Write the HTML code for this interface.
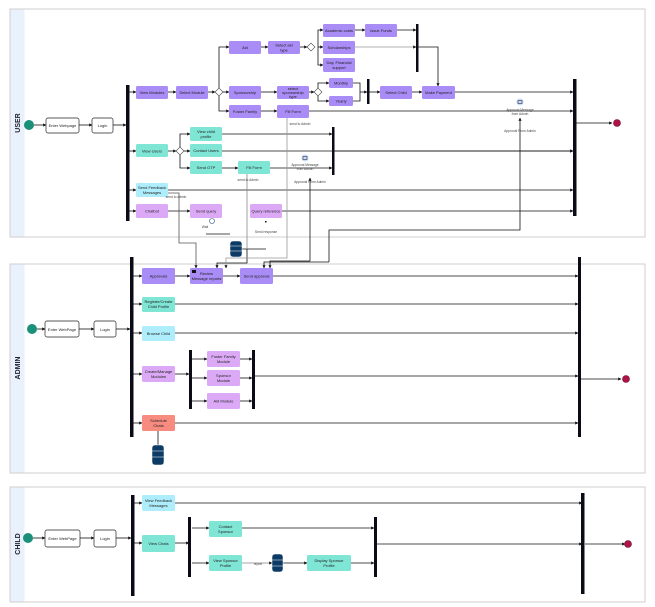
<!DOCTYPE html>
<html><head><meta charset="utf-8"><style>
html,body{margin:0;padding:0;background:#fff;width:655px;height:607px;overflow:hidden}
svg{display:block;font-family:"Liberation Sans",sans-serif}
.b text{font-size:4px;text-anchor:middle;fill:#222}
</style></head><body>
<svg width="655" height="607" viewBox="0 0 655 607" xmlns="http://www.w3.org/2000/svg">
<defs><marker id="a" markerWidth="4" markerHeight="4" refX="3.5" refY="2" orient="auto"><path d="M0,0L4,2L0,4z" fill="#111"/></marker></defs>
<!-- lanes -->
<g fill="#fff" stroke="#cfcfcf" stroke-width="1">
<rect x="10" y="9" width="635" height="228"/><rect x="10" y="264" width="635" height="209"/><rect x="10" y="487" width="635" height="115"/></g>
<g fill="#e9f1fd"><rect x="10.5" y="9.5" width="14" height="227"/><rect x="10.5" y="264.5" width="14" height="208"/><rect x="10.5" y="487.5" width="14" height="114"/></g>
<g font-size="7" font-weight="bold" fill="#223" text-anchor="middle">
<text transform="translate(20,123) rotate(-90)">USER</text>
<text transform="translate(20,368) rotate(-90)">ADMIN</text>
<text transform="translate(20,544) rotate(-90)">CHILD</text></g>

<!-- lines -->
<g stroke="#111" stroke-width="0.8" fill="none" marker-end="url(#a)">
<path d="M34 125H46"/><path d="M79 125H92"/><path d="M113 125H126"/>
<path d="M129 92H136"/><path d="M129 151H136"/><path d="M129 190H136"/><path d="M129 211H136"/>
<path d="M168 92H176"/><path d="M208 92H215"/><path d="M223 92H229"/><path d="M219 88V47H229"/><path d="M219 96V111H229"/>
<path d="M261 47H268"/><path d="M300 47H307"/><path d="M318 47H323"/><path d="M318 47V30H323"/><path d="M318 47V65H323"/>
<path d="M355 30H365"/><path d="M397 30H416"/><path d="M355 47H416" stroke="#999"/>
<path d="M418 47H438V86"/>
<path d="M261 92H277"/><path d="M309 92H314"/><path d="M318 88V83H329"/><path d="M318 96V101H329"/>
<path d="M353 83H360V101H353" marker-end="none"/><path d="M360 92H367"/>
<path d="M369 92H380"/><path d="M412 92H422"/><path d="M455 92H573"/>
<path d="M261 111H277"/><path d="M309 111H573"/>
<path d="M168 151H176"/><path d="M184 151H190"/><path d="M180 147V134H190"/><path d="M180 155V168H190"/>
<path d="M222 134H332"/><path d="M222 151H573"/><path d="M222 168H238"/><path d="M270 168H332"/>
<path d="M334 151H573"/>
<path d="M168 190H573"/><path d="M168 211H190"/><path d="M282 211H573"/>
<path d="M576 123H612"/>
<!-- cross -->
<path d="M168 193H179V243H196V268" stroke="#555"/>
<path d="M206 234H230" marker-end="none"/>
<path d="M242 249H266" marker-end="none"/>
<path d="M247 249V263H217V268"/>
<path d="M247 174V249" stroke="#888" marker-end="none"/>
<path d="M287 118V258H226V268" stroke="#999"/>
<path d="M310 261V178"/>
<path d="M310 261H270V268"/>
<path d="M329 262H264V268"/>
<path d="M329 262V230H520V118"/>
<!-- admin -->
<path d="M37 329H45"/><path d="M79 329H94"/><path d="M116 329H130"/>
<path d="M133 276H142"/><path d="M133 304H142"/><path d="M133 333H142"/><path d="M133 374H142"/><path d="M133 423H142"/>
<path d="M175 276H190"/><path d="M223 276H240"/><path d="M273 276H578"/>
<path d="M175 304H578"/><path d="M175 333H578"/><path d="M175 374H189"/>
<path d="M192 359H207"/><path d="M192 378H207"/><path d="M192 401H207"/>
<path d="M240 359H252"/><path d="M240 378H252"/><path d="M240 401H252"/>
<path d="M255 376H578"/><path d="M175 423H578"/><path d="M158 431V445" marker-end="none"/>
<path d="M580 379H621"/>
<!-- child -->
<path d="M33 538H45"/><path d="M80 538H94"/><path d="M116 538H131"/>
<path d="M134 503H142"/><path d="M134 543H142"/><path d="M175 503H582"/><path d="M175 543H189"/>
<path d="M192 528H209"/><path d="M192 563H209"/><path d="M242 528H374"/>
<path d="M242 563H272" stroke="#888"/><path d="M282 563H307"/><path d="M351 563H374"/>
<path d="M377 544H582"/><path d="M585 544H625"/>
</g>

<!-- bars -->
<g fill="#0b0b18">
<rect x="126" y="85" width="3.5" height="136"/><rect x="416" y="24" width="2.5" height="48"/><rect x="367" y="79" width="2.5" height="25"/>
<rect x="332" y="127" width="2.5" height="48"/><rect x="573" y="79" width="3.5" height="137"/>
<rect x="130" y="257" width="3.5" height="180"/><rect x="189" y="350" width="3" height="59"/><rect x="252" y="350" width="3" height="59"/><rect x="578" y="257" width="3" height="180"/>
<rect x="131" y="495" width="3.5" height="101"/><rect x="188" y="517" width="3" height="60"/><rect x="374" y="517" width="3" height="60"/><rect x="581" y="493" width="3.5" height="101"/>
</g>

<!-- diamonds -->
<g fill="#fff" stroke="#444" stroke-width="0.6">
<path d="M215 92L219 88L223 92L219 96Z"/><path d="M307 47L311 43L315 47L311 51Z"/><path d="M314 92L318 88L322 92L318 96Z"/><path d="M176 151L180 147L184 151L180 155Z"/>
</g>

<!-- start/end -->
<g fill="#1a8f7a"><circle cx="29" cy="125" r="5"/><circle cx="32" cy="329" r="5"/><circle cx="28" cy="538" r="5"/></g>
<g fill="#b0124a" stroke="#6a0a2a" stroke-width="0.6"><circle cx="617" cy="123" r="3.5"/><circle cx="626" cy="379" r="3.5"/><circle cx="628" cy="544" r="3.5"/></g>

<!-- boxes -->
<g class="b">
<g fill="#fff" stroke="#222" stroke-width="0.7">
<rect x="46" y="118" width="33" height="15" rx="2"/><rect x="92" y="118" width="21" height="15" rx="2"/>
<rect x="45" y="321" width="34" height="16" rx="2"/><rect x="94" y="321" width="22" height="16" rx="2"/>
<rect x="45" y="530" width="35" height="17" rx="2"/><rect x="94" y="530" width="22" height="17" rx="2"/>
</g>
<text x="62.5" y="127">Enter Webpage</text><text x="102.5" y="127">Login</text>
<text x="62" y="331">Enter WebPage</text><text x="105" y="331">Login</text>
<text x="62.5" y="540">Enter WebPage</text><text x="105" y="540">Login</text>

<g fill="#a98cf5">
<rect x="136" y="86" width="32" height="13" rx="1.5"/><rect x="176" y="86" width="32" height="13" rx="1.5"/>
<rect x="229" y="41" width="32" height="13" rx="1.5"/><rect x="268" y="41" width="32" height="13" rx="1.5"/>
<rect x="323" y="24" width="32" height="13" rx="1.5"/><rect x="365" y="24" width="32" height="13" rx="1.5"/>
<rect x="323" y="41" width="32" height="13" rx="1.5"/><rect x="323" y="58" width="32" height="14" rx="1.5"/>
<rect x="229" y="86" width="32" height="13" rx="1.5"/><rect x="229" y="105" width="32" height="13" rx="1.5"/>
<rect x="277" y="86" width="32" height="13" rx="1.5"/><rect x="277" y="105" width="32" height="13" rx="1.5"/>
<rect x="329" y="78" width="24" height="10" rx="1.5"/><rect x="329" y="96" width="24" height="10" rx="1.5"/>
<rect x="380" y="86" width="32" height="13" rx="1.5"/><rect x="422" y="86" width="33" height="13" rx="1.5"/>
<rect x="142" y="268" width="33" height="16" rx="1.5"/><rect x="190" y="268" width="33" height="16" rx="1.5"/><rect x="240" y="268" width="33" height="16" rx="1.5"/>
</g>
<g fill="#7fe6d6">
<rect x="136" y="144" width="32" height="13" rx="1.5"/><rect x="190" y="127" width="32" height="14" rx="1.5"/><rect x="190" y="144" width="32" height="13" rx="1.5"/>
<rect x="190" y="161" width="32" height="13" rx="1.5"/><rect x="238" y="161" width="32" height="13" rx="1.5"/>
<rect x="142" y="297" width="33" height="15" rx="1.5"/>
<rect x="142" y="535" width="33" height="17" rx="1.5"/><rect x="209" y="521" width="33" height="16" rx="1.5"/>
<rect x="209" y="555" width="33" height="16" rx="1.5"/><rect x="307" y="555" width="44" height="16" rx="1.5"/>
</g>
<g fill="#aeeefc"><rect x="136" y="183" width="32" height="14" rx="1.5"/><rect x="142" y="326" width="33" height="15" rx="1.5"/><rect x="142" y="495" width="33" height="16" rx="1.5"/></g>
<g fill="#dca9f7">
<rect x="136" y="204" width="32" height="14" rx="1.5"/><rect x="190" y="204" width="32" height="14" rx="1.5"/><rect x="250" y="204" width="32" height="14" rx="1.5"/>
<rect x="142" y="366" width="33" height="16" rx="1.5"/><rect x="207" y="351" width="33" height="16" rx="1.5"/><rect x="207" y="370" width="33" height="16" rx="1.5"/><rect x="207" y="393" width="33" height="16" rx="1.5"/>
</g>
<rect x="142" y="415" width="33" height="16" rx="1.5" fill="#f88b80"/>

<text x="152" y="94">View Modules</text><text x="192" y="94">Select Module</text>
<text x="245" y="49">Aid</text><text x="284" y="46.5">Select aid</text><text x="284" y="51.5">type</text>
<text x="339" y="32">Academic costs</text><text x="381" y="32">Issue Funds</text><text x="339" y="49">Scholarships</text>
<text x="339" y="64">Day. Financial</text><text x="339" y="69">support</text>
<text x="245" y="94">Sponsorship</text><text x="245" y="113">Foster Family</text>
<text x="293" y="90">select</text><text x="293" y="94">sponsorship</text><text x="293" y="98">type</text>
<text x="293" y="113">Fill Form</text><text x="341" y="84.5">Monthly</text><text x="341" y="102.5">Yearly</text>
<text x="396" y="94">Select Child</text><text x="438.5" y="94">Make Payment</text>
<text x="152" y="152.5">View Users</text><text x="206" y="133">View child</text><text x="206" y="138">profile</text>
<text x="206" y="152">Contact Users</text><text x="206" y="169">Send OTP</text><text x="254" y="169">Fill Form</text>
<text x="152" y="189">Send Feedback</text><text x="152" y="194">Messages</text>
<text x="152" y="212.5">Chatbot</text><text x="206" y="212.5">Send query</text><text x="266" y="212.5">Query reference</text>
<text x="158.5" y="277.5">Approvals</text><text x="206.5" y="275">Review</text><text x="206.5" y="280">Message reports</text><text x="256.5" y="277.5">Send approval</text>
<text x="158.5" y="303">Register/Create</text><text x="158.5" y="308">Child Profile</text><text x="158.5" y="335">Browse Child</text>
<text x="158.5" y="373">Create/Manage</text><text x="158.5" y="378">Modules</text>
<text x="223.5" y="358">Foster Family</text><text x="223.5" y="363">Module</text><text x="223.5" y="377">Sponsor</text><text x="223.5" y="382">Module</text><text x="223.5" y="402.5">Aid Module</text>
<text x="158.5" y="422">Schedule</text><text x="158.5" y="427">Chats</text>
<text x="158.5" y="502">View Feedback</text><text x="158.5" y="507">Messages</text><text x="158.5" y="545">View Chats</text>
<text x="225.5" y="528">Contact</text><text x="225.5" y="533">Sponsor</text><text x="225.5" y="562">View Sponsor</text><text x="225.5" y="567">Profile</text>
<text x="329" y="562">Display Sponsor</text><text x="329" y="567">Profile</text>
</g>

<!-- small labels -->
<g font-size="3.3" fill="#444" text-anchor="middle">
<text x="300" y="125">send to Admin</text><text x="520" y="111">Approval Message</text><text x="520" y="115">from Admin</text><text x="520" y="132">Approval From Admin</text>
<text x="305" y="166">Approval Message</text><text x="305" y="170">from Admin</text><text x="310" y="183">Approval From Admin</text>
<text x="248" y="181">send to Admin</text><text x="176" y="198">send to admin</text>
<text x="205" y="228">Wait</text><text x="266" y="233">Send response</text><text x="258" y="565">report</text>
</g>
<!-- icons -->
<g><circle cx="520" cy="102" r="3.5" fill="#c8dcf5"/><rect x="518" y="100.5" width="4" height="3" fill="none" stroke="#335" stroke-width="0.6"/>
<circle cx="305" cy="158" r="3.5" fill="#c8dcf5"/><rect x="303" y="156.5" width="4" height="3" fill="none" stroke="#335" stroke-width="0.6"/>
<circle cx="212" cy="221" r="2.5" fill="#fff" stroke="#357" stroke-width="0.6"/>
<rect x="192" y="270" width="4" height="3" fill="#111"/><rect x="265" y="221" width="1.5" height="1.5" fill="#111"/></g>
<g fill="#0c3b66" stroke="#fff" stroke-width="0.5">
<rect x="230" y="241" width="12" height="16" rx="3"/><path d="M230 246H242M230 251H242" fill="none"/>
<rect x="152" y="445" width="12" height="20" rx="3"/><path d="M152 451H164M152 457H164" fill="none"/>
<rect x="272" y="554" width="11" height="18" rx="3"/><path d="M272 560H283M272 566H283" fill="none"/>
</g>
</svg>
</body></html>
